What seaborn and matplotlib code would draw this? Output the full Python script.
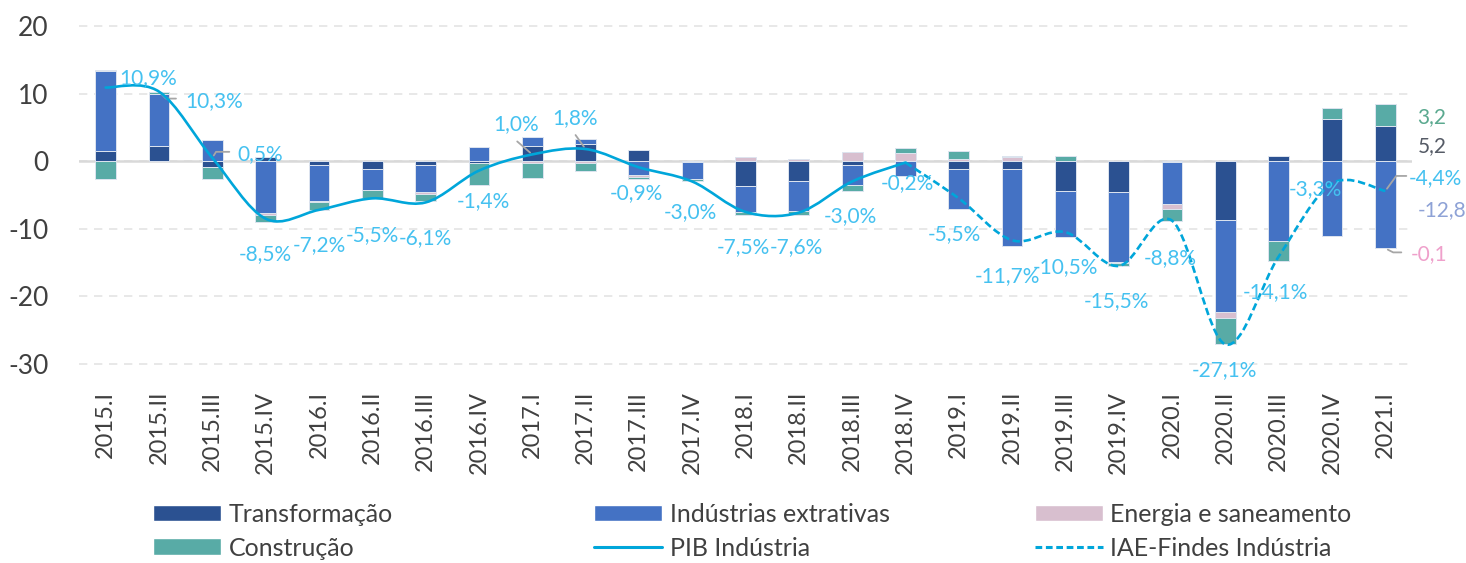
import numpy as np
import pandas as pd
import matplotlib.pyplot as plt
import seaborn as sns
from matplotlib.path import Path
from matplotlib.patches import PathPatch, Patch
from matplotlib.lines import Line2D

# quarters and contributions (p.p.) of each sector
quarters = ['2015.I', '2015.II', '2015.III', '2015.IV', '2016.I', '2016.II', '2016.III', '2016.IV',
            '2017.I', '2017.II', '2017.III', '2017.IV', '2018.I', '2018.II', '2018.III', '2018.IV',
            '2019.I', '2019.II', '2019.III', '2019.IV', '2020.I', '2020.II', '2020.III', '2020.IV',
            '2021.I']
transformacao = [1.5, 2.3, -0.8, 0.6, -0.6, -1.2, -0.6, -0.2, 2.3, 2.6, 1.6, -0.1, -3.6, -2.9, -0.5, 0.1,
                 -1.1, -1.2, -4.4, -4.6, -0.1, -8.7, 0.7, 6.2, 5.2]
extrativas = [11.8, 7.6, 3.1, -7.6, -5.3, -3.0, -4.0, 2.1, 1.3, 0.7, -2.0, -2.5, -3.9, -4.4, -3.0, -2.2,
              -5.9, -11.3, -6.8, -10.3, -6.2, -13.6, -11.8, -11.1, -12.8]
energia = [0.2, 0.1, 0.0, -0.3, -0.2, -0.1, -0.3, -0.1, -0.3, -0.3, -0.3, 0.0, 0.6, 0.3, 1.3, 1.1,
           0.4, 0.6, 0.1, -0.2, -0.8, -0.9, 0.0, 0.1, -0.1]
construcao = [-2.6, 0.3, -1.9, -1.1, -1.1, -1.2, -1.0, -3.2, -2.2, -1.2, -0.3, -0.4, -0.5, -0.6, -0.9, 0.8,
              1.1, 0.2, 0.6, -0.4, -1.7, -3.9, -3.0, 1.5, 3.2]

# growth lines (%)
pib_industria = [10.9, 10.3, 0.5, -8.5, -7.2, -5.5, -6.1, -1.4, 1.0, 1.8, -0.9, -3.0, -7.5, -7.6, -3.0, -0.2]
iae_findes = [-0.2, -5.5, -11.7, -10.5, -15.5, -8.8, -27.1, -14.1, -3.3, -4.4]
pib_labels = ['10,9%', '10,3%', '0,5%', '-8,5%', '-7,2%', '-5,5%', '-6,1%', '-1,4%', '1,0%', '1,8%',
              '-0,9%', '-3,0%', '-7,5%', '-7,6%', '-3,0%', '-0,2%']
iae_labels = ['-5,5%', '-11,7%', '-10,5%', '-15,5%', '-8,8%', '-27,1%', '-14,1%', '-3,3%', '-4,4%']

# label offsets in pixels from each point
pib_offsets = [(42, 9), (55, -10), (48, 4), (0, -35), (0, -35), (0, -37), (0, -36), (4, -30),
               (-16, 30), (-11, 31), (-2, -26), (-2, -31), (-2, -35), (-2, -35), (-2, -35), (2, -21)]
iae_offsets = [(-4, -36), (-5, -36), (0, -35), (-2, -35), (-2, -37), (-1, -26), (-3, -36), (-17, -6), (50, 13)]

c_transf = '#2B5191'
c_extr = '#4472C4'
c_energ = '#D8BFCF'
c_constr = '#58ABA6'
c_line = '#00A6DA'
c_lab = '#45C1F0'

sns.set_theme(style='white')
plt.rcParams['font.family'] = ['Lato', 'DejaVu Sans']

fig = plt.figure(figsize=(14.66, 5.63), dpi=100)
ax = fig.add_axes([79 / 1466, 1 - 366 / 563, (1412 - 79) / 1466, (366 - 24) / 563])

df = pd.DataFrame({'quarter': quarters, 'Transformação': transformacao, 'Indústrias extrativas': extrativas,
                   'Energia e saneamento': energia, 'Construção': construcao})
pos_base = np.zeros(len(df))
neg_base = np.zeros(len(df))
for col, colr in [('Transformação', c_transf), ('Indústrias extrativas', c_extr),
                  ('Energia e saneamento', c_energ), ('Construção', c_constr)]:
    vals = df[col].to_numpy()
    bottom = np.where(vals >= 0, pos_base, neg_base)
    sns.barplot(x=df['quarter'], y=vals, bottom=bottom, color=colr, width=0.39, errorbar=None,
                saturation=1, edgecolor='#dde4ef', linewidth=0.7, ax=ax, zorder=2)
    pos_base = pos_base + np.clip(vals, 0, None)
    neg_base = neg_base + np.clip(vals, None, 0)


def smooth_path(xs, ys):
    verts = [(xs[0], ys[0])]
    codes = [Path.MOVETO]
    n = len(xs)
    for i in range(n - 1):
        a = max(i - 1, 0)
        b = min(i + 2, n - 1)
        c1 = (xs[i] + (xs[i + 1] - xs[a]) / 6, ys[i] + (ys[i + 1] - ys[a]) / 6)
        c2 = (xs[i + 1] - (xs[b] - xs[i]) / 6, ys[i + 1] - (ys[b] - ys[i]) / 6)
        verts += [c1, c2, (xs[i + 1], ys[i + 1])]
        codes += [Path.CURVE4] * 3
    return Path(verts, codes)


x_pib = np.arange(len(pib_industria))
x_iae = np.arange(len(iae_findes)) + len(pib_industria) - 1
ax.add_patch(PathPatch(smooth_path(x_pib, pib_industria), fill=False, edgecolor=c_line, lw=1.9,
                       capstyle='round', zorder=4))
ax.add_patch(PathPatch(smooth_path(x_iae, iae_findes), fill=False, edgecolor=c_line, lw=1.9,
                       linestyle=(0, (2.8, 1.4)), zorder=4))

# value labels
for x, y, lab, off in zip(x_pib, pib_industria, pib_labels, pib_offsets):
    ax.annotate(lab, (x, y), xytext=off, textcoords='offset pixels', ha='center', va='center',
                fontsize=15, color=c_lab, zorder=5)
for x, y, lab, off in zip(x_iae[1:], iae_findes[1:], iae_labels, iae_offsets):
    ax.annotate(lab, (x, y), xytext=off, textcoords='offset pixels', ha='center', va='center',
                fontsize=15, color=c_lab, zorder=5)

# leader lines
lead = dict(arrowstyle='-', color='#A6A6A6', lw=1.3, shrinkA=0, shrinkB=2)
ax.annotate('', (1, pib_industria[1]), xytext=(17, -7), textcoords='offset pixels',
            arrowprops=dict(lead, connectionstyle='angle,angleA=0,angleB=-45,rad=0'))
ax.annotate('', (2, pib_industria[2]), xytext=(17, 6), textcoords='offset pixels',
            arrowprops=dict(lead, connectionstyle='angle,angleA=0,angleB=58,rad=0'))
ax.annotate('', (8, pib_industria[8]), xytext=(-15, 13), textcoords='offset pixels', arrowprops=lead)
ax.annotate('', (9, pib_industria[9]), xytext=(-10, 14), textcoords='offset pixels', arrowprops=lead)
last = len(quarters) - 1
ax.annotate('', (last, iae_findes[-1]), xytext=(21, 15), textcoords='offset pixels',
            arrowprops=dict(lead, connectionstyle='angle,angleA=0,angleB=54,rad=0'))
ax.annotate('', (last, neg_base[-1]), xytext=(16, -4), textcoords='offset pixels',
            arrowprops=dict(lead, connectionstyle='angle,angleA=0,angleB=-27,rad=0'))

# labels of the last bar
ax.annotate(f'{construcao[-1]:.1f}'.replace('.', ','), (last, transformacao[-1] + construcao[-1] / 2),
            xytext=(32, -2), textcoords='offset pixels', ha='left', va='center', fontsize=15, color='#5AA98F')
ax.annotate(f'{transformacao[-1]:.1f}'.replace('.', ','), (last, transformacao[-1] / 2),
            xytext=(32, -2), textcoords='offset pixels', ha='left', va='center', fontsize=15, color='#555B66')
ax.annotate(f'{extrativas[-1]:.1f}'.replace('.', ','), (last, extrativas[-1] / 2),
            xytext=(32, -6), textcoords='offset pixels', ha='left', va='center', fontsize=15, color='#8EA2D6')
ax.annotate(f'{energia[-1]:.1f}'.replace('.', ','), (last, neg_base[-1]),
            xytext=(25, -6), textcoords='offset pixels', ha='left', va='center', fontsize=15, color='#EFA0CB')

ax.set_ylim(-30.3, 20.3)
ax.set_xlim(-0.5, len(quarters) - 0.5)
ax.set_yticks([-30, -20, -10, 0, 10, 20])
ax.set_yticklabels(['-30', '-20', '-10', '0', '10', '20'])
ax.yaxis.grid(True, color='#E4E4E4', lw=1.2, linestyle=(0, (5, 4)))
ax.xaxis.grid(False)
ax.axhline(0, color='#D9D9D9', lw=1.8, zorder=1)
ax.set_axisbelow(True)
for s in ax.spines.values():
    s.set_visible(False)
ax.tick_params(axis='y', length=0, pad=22, labelsize=19, labelcolor='#404040')
ax.tick_params(axis='x', length=0, pad=18, labelsize=17, labelcolor='#404040', rotation=90)
ax.set_xlabel('')
ax.set_ylabel('')

# legend in three columns
cols = [
    [(Patch(facecolor=c_transf), 'Transformação'), (Patch(facecolor=c_constr), 'Construção')],
    [(Patch(facecolor=c_extr), 'Indústrias extrativas'), (Line2D([], [], color=c_line, lw=2.2), 'PIB Indústria')],
    [(Patch(facecolor=c_energ), 'Energia e saneamento'),
     (Line2D([], [], color=c_line, lw=2.2, linestyle=(0, (2.2, 1.2))), 'IAE-Findes Indústria')],
]
for xpx, col in zip([153, 594, 1035], cols):
    fig.legend([h for h, _ in col], [l for _, l in col], loc='upper left',
               bbox_to_anchor=(xpx / 1466, 1 - 503 / 563), frameon=False, fontsize=18,
               handlelength=2.7, handleheight=0.64, handletextpad=0.32, labelspacing=0.42,
               borderpad=0, borderaxespad=0, labelcolor='#404040')

fig.savefig('out.png', dpi=100)
